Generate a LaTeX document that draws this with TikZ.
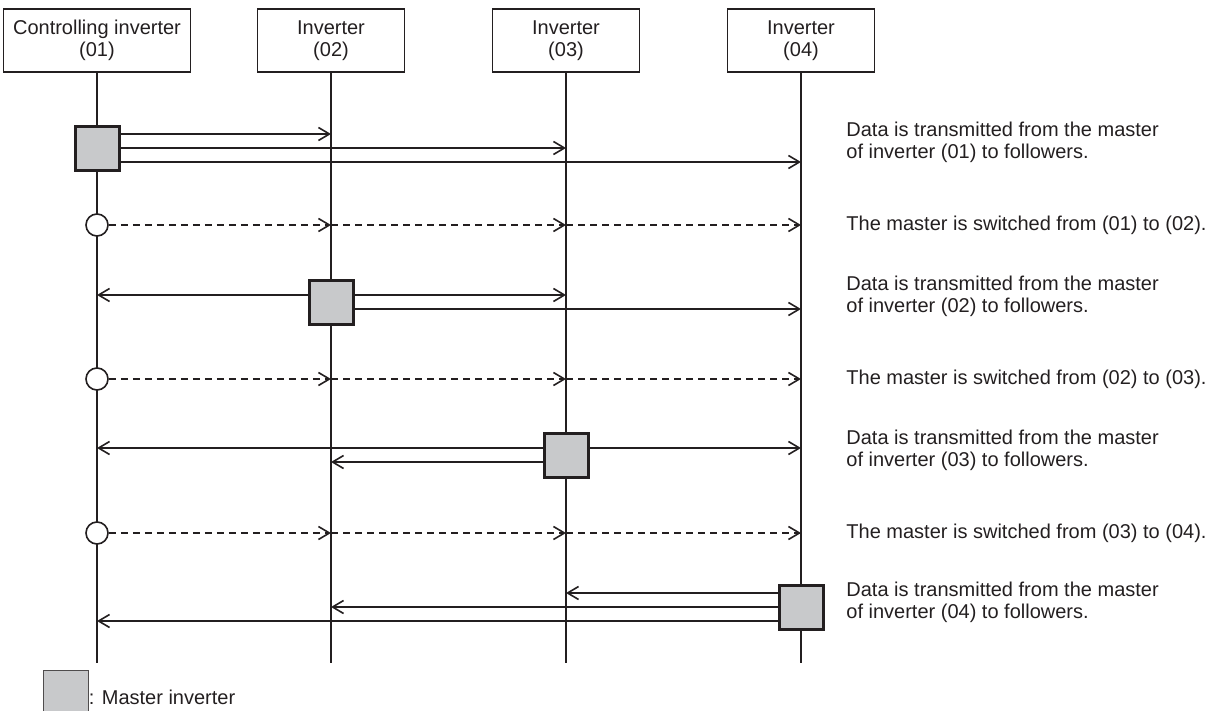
\documentclass[tikz,border=0pt]{standalone}
\usepackage{fontspec}
\setmainfont{Liberation Sans}
\usetikzlibrary{arrows.meta}
\definecolor{ink}{HTML}{231F20}
\definecolor{mgray}{HTML}{C8C9CB}
\tikzset{
  hdr/.style={draw=ink, line width=0.7pt, align=center, minimum height=31.5pt, inner sep=0pt, text=ink},
  life/.style={draw=ink, line width=1.4pt},
  master/.style={draw=ink, fill=mgray, line width=1.5pt, minimum size=22pt, inner sep=0pt},
  switchdot/.style={circle, draw=ink, fill=white, line width=0.8pt, minimum size=11pt, inner sep=0pt},
  msg/.style={draw=ink, line width=0.8pt, -{Straight Barb[length=5.5pt,width=6.5pt]}},
  hand/.style={msg, dash pattern=on 3.5pt off 2.5pt},
  note/.style={anchor=west, align=left, text=ink, inner sep=0pt}
}
\begin{document}
\begin{tikzpicture}[x=0.5pt,y=-0.5pt,font=\fontsize{10}{11}\selectfont]
            \useasboundingbox (0,0) rectangle (1225,711);
            % inverters and their lifelines
            \node[hdr, minimum width=93.5pt] (h1) at (97,40.5) {Controlling inverter\\(01)};
            \node[hdr, minimum width=73.5pt] (h2) at (331,40.5) {Inverter\\(02)};
            \node[hdr, minimum width=73.5pt] (h3) at (566,40.5) {Inverter\\(03)};
            \node[hdr, minimum width=73.5pt] (h4) at (801,40.5) {Inverter\\(04)};
            \draw[life] (h1.south) -- (h1 |- 0,663);
            \draw[life] (h2.south) -- (h2 |- 0,663);
            \draw[life] (h3.south) -- (h3 |- 0,663);
            \draw[life] (h4.south) -- (h4 |- 0,663);
            % master (01)
            \node[master] (m1) at (97,149) {};
            \draw[msg] (m1.east |- 0,134) -- (h2 |- 0,134);
            \draw[msg] (m1.east |- 0,148) -- (h3 |- 0,148);
            \draw[msg] (m1.east |- 0,162) -- (h4 |- 0,162);
            \node[note] (t1) at (846,142) {Data is transmitted from the master\\of inverter (01) to followers.};
            % switch to (02)
            \node[switchdot] (s1) at (97,225) {};
            \draw[hand] (s1) -- (h2 |- s1);
            \draw[hand] (h2 |- s1) -- (h3 |- s1);
            \draw[hand] (h3 |- s1) -- (h4 |- s1);
            \node[note] (t2) at (846,225) {The master is switched from (01) to (02).};
            % master (02)
            \node[master] (m2) at (331,302) {};
            \draw[msg] (m2.west |- 0,295) -- (h1 |- 0,295);
            \draw[msg] (m2.east |- 0,295) -- (h3 |- 0,295);
            \draw[msg] (m2.east |- 0,309) -- (h4 |- 0,309);
            \node[note] (t3) at (846,296) {Data is transmitted from the master\\of inverter (02) to followers.};
            % switch to (03)
            \node[switchdot] (s2) at (97,379) {};
            \draw[hand] (s2) -- (h2 |- s2);
            \draw[hand] (h2 |- s2) -- (h3 |- s2);
            \draw[hand] (h3 |- s2) -- (h4 |- s2);
            \node[note] (t4) at (846,379) {The master is switched from (02) to (03).};
            % master (03)
            \node[master] (m3) at (566,455) {};
            \draw[msg] (m3.west |- 0,448) -- (h1 |- 0,448);
            \draw[msg] (m3.west |- 0,462) -- (h2 |- 0,462);
            \draw[msg] (m3.east |- 0,448) -- (h4 |- 0,448);
            \node[note] (t5) at (846,450) {Data is transmitted from the master\\of inverter (03) to followers.};
            % switch to (04)
            \node[switchdot] (s3) at (97,533) {};
            \draw[hand] (s3) -- (h2 |- s3);
            \draw[hand] (h2 |- s3) -- (h3 |- s3);
            \draw[hand] (h3 |- s3) -- (h4 |- s3);
            \node[note] (t6) at (846,533) {The master is switched from (03) to (04).};
            % master (04)
            \node[master] (m4) at (801,607) {};
            \draw[msg] (m4.west |- 0,593) -- (h3 |- 0,593);
            \draw[msg] (m4.west |- 0,607) -- (h2 |- 0,607);
            \draw[msg] (m4.west |- 0,621) -- (h1 |- 0,621);
            \node[note] (t7) at (846,602) {Data is transmitted from the master\\of inverter (04) to followers.};
            % legend
            \node[draw=ink!80, fill=mgray, line width=0.5pt, minimum size=22.5pt, inner sep=0pt] (key) at (65.5,692.5) {};
            \node[note] (keytext) at (key.east |- 0,697) {: Master inverter};
        \end{tikzpicture}
\end{document}
